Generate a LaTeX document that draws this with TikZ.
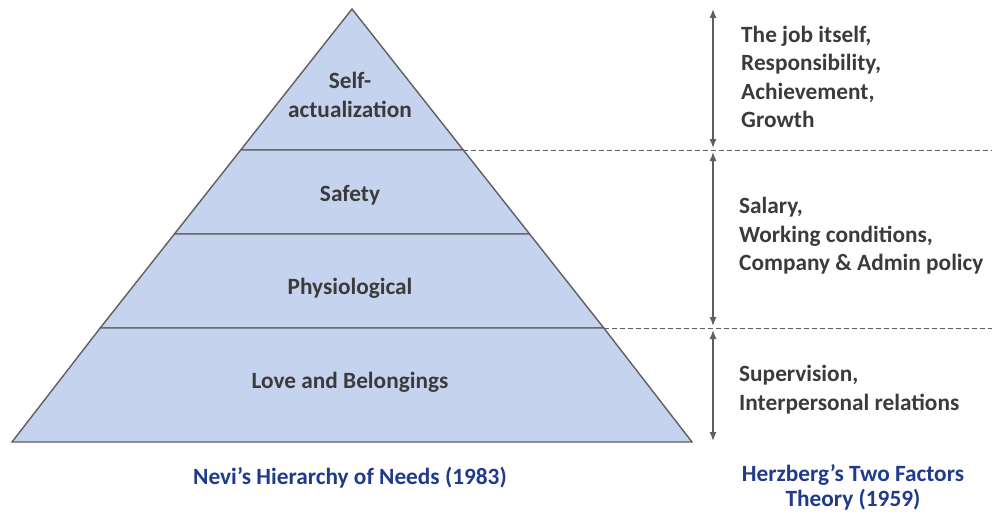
\documentclass[tikz,border=0pt]{standalone}
\usepackage{fontspec}
\setmainfont{Carlito}
\usetikzlibrary{arrows.meta}
\definecolor{tierfill}{HTML}{C5D3EF}
\definecolor{tierline}{HTML}{5F5F5F}
\definecolor{txt}{HTML}{3B3B3B}
\definecolor{capblue}{HTML}{203A8C}
\tikzset{
  tier/.style={fill=tierfill,draw=tierline,line width=1.4pt,line join=miter},
  lbl/.style={font=\bfseries\fontsize{23.3}{29}\selectfont,text=txt,align=center,inner sep=0pt},
  rlbl/.style={font=\bfseries\fontsize{23.3}{28.5}\selectfont,text=txt,align=left,anchor=west,inner sep=0pt},
  captext/.style={font=\bfseries\fontsize{23.3}{25}\selectfont,text=capblue,align=center,inner sep=0pt},
  dimarrow/.style={draw=tierline,line width=1.3pt,{Latex[length=9pt,width=7pt]}-{Latex[length=9pt,width=7pt]}},
  sepline/.style={draw=tierline,line width=0.9pt,dash pattern=on 5pt off 3pt}
}
\begin{document}
\begin{tikzpicture}[x=1pt,y=-1pt]
\useasboundingbox (0,0) rectangle (992,516);
% pyramid tiers
\draw[tier] (352,9) -- (463.3,150) -- (240.7,150) -- cycle;
\draw[tier] (240.7,150) -- (463.3,150) -- (529.6,234) -- (174.4,234) -- cycle;
\draw[tier] (174.4,234) -- (529.6,234) -- (603.8,328) -- (100.2,328) -- cycle;
\draw[tier] (100.2,328) -- (603.8,328) -- (692,442) -- (12,442) -- cycle;
% labels
\node[lbl] (self) at (350,95) {Self-\\actualization};
\node[lbl] (safe) at (350,195) {Safety};
\node[lbl] (phys) at (350,288) {Physiological};
\node[lbl] (love) at (350,382) {Love and Belongings};
% dashed separators
\coordinate (d1a) at (463.3,150); \coordinate (d1b) at (992,150);
\coordinate (d2a) at (603.8,328); \coordinate (d2b) at (992,328);
\draw[sepline] (d1a) -- (d1b);
\draw[sepline] (d2a) -- (d2b);
% dimension arrows
\coordinate (a0) at (713,9);
\coordinate (a1) at (713,148);
\coordinate (a2) at (713,152);
\coordinate (a3) at (713,326);
\coordinate (a4) at (713,330);
\coordinate (a5) at (713,441);
\draw[dimarrow] (a0) -- (a1);
\draw[dimarrow] (a2) -- (a3);
\draw[dimarrow] (a4) -- (a5);
% right texts
\node[rlbl] (motiv) at (741,77) {The job itself,\\Responsibility,\\Achievement,\\Growth};
\node[rlbl] (hyg) at (739,236) {Salary,\\Working conditions,\\Company \& Admin policy};
\node[rlbl] (sup) at (739,389.5) {Supervision,\\Interpersonal relations};
% captions
\node[captext] (capl) at (350,478) {Nevi’s Hierarchy of Needs (1983)};
\node[captext] (capr) at (853,487) {Herzberg’s Two Factors\\Theory (1959)};
\end{tikzpicture}
\end{document}
